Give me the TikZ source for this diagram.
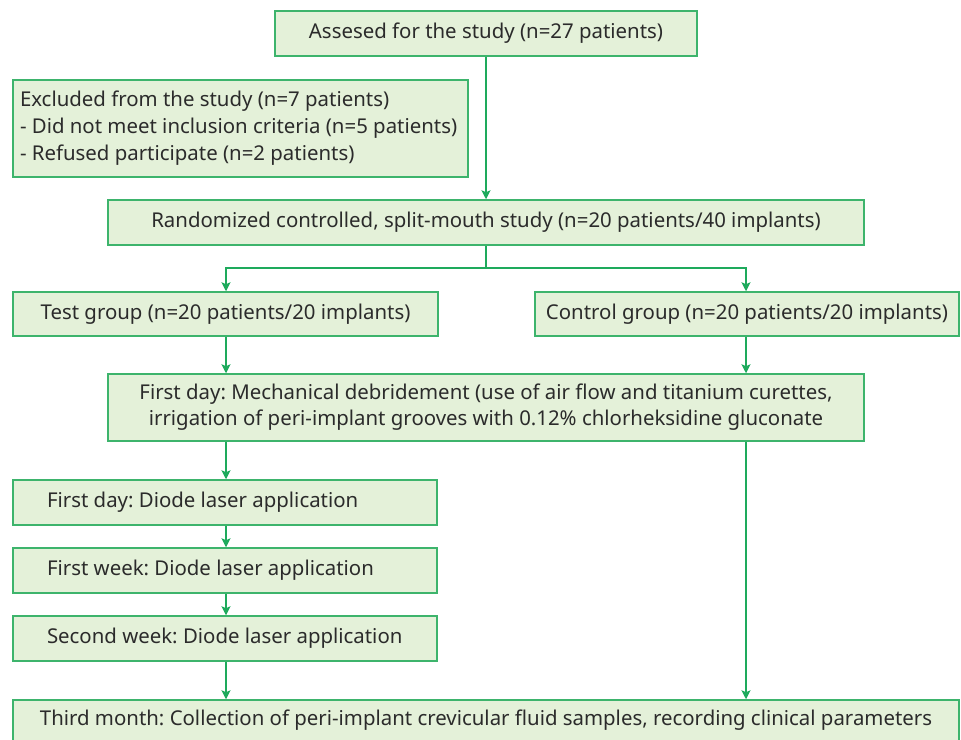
\documentclass[tikz,border=0pt]{standalone}
\usepackage{fontspec}
\setmainfont{Noto Sans}
\usetikzlibrary{arrows.meta}
\definecolor{boxfill}{HTML}{E4F1D9}
\definecolor{boxline}{HTML}{3DB46C}
\definecolor{arrline}{HTML}{1EAA5C}
\definecolor{txt}{HTML}{2B2B2B}
\tikzset{
  fbox/.style={draw=boxline, fill=boxfill, line width=1.5pt, inner sep=0pt,
    text=txt, font=\fontsize{20.4}{26}\selectfont, align=center},
  arr/.style={draw=arrline, line width=1.3pt, -{Stealth[length=9pt,width=9pt,inset=2pt]}},
  ln/.style={draw=arrline, line width=1.3pt}
}
\frenchspacing
\begin{document}
\begin{tikzpicture}[x=1pt,y=-1pt]
\useasboundingbox (0,0) rectangle (961,739);
\clip (0,0) rectangle (961,739);
\node[fbox, minimum width=422pt, minimum height=45pt] (assess) at (486,33.5) {Assesed for the study (n=27 patients)};
\node[fbox, minimum width=455pt, minimum height=97pt, align=left, font=\fontsize{20.4}{27}\selectfont] (excl) at (240.5,128.5) {\makebox[441pt][l]{Excluded from the study (n=7 patients)}\\\makebox[441pt][l]{- Did not meet inclusion criteria (n=5 patients)}\\\makebox[441pt][l]{- Refused participate (n=2 patients)}};
\node[fbox, minimum width=756pt, minimum height=45pt] (rand) at (486,222.5) {Randomized controlled, split-mouth study (n=20 patients/40 implants)};
\node[fbox, minimum width=425pt, minimum height=44pt] (test) at (225.5,314) {Test group (n=20 patients/20 implants)};
\node[fbox, minimum width=424pt, minimum height=44pt] (control) at (747,314) {Control group (n=20 patients/20 implants)};
\node[fbox, minimum width=756pt, minimum height=67pt] (mech) at (486,407.5) {First day: Mechanical debridement (use of air flow and titanium curettes,\\irrigation of peri-implant grooves with 0.12\% chlorheksidine gluconate};
\node[fbox, minimum width=424pt, minimum height=45pt, inner xsep=34pt] (d1) at (225,502.5) {\makebox[356pt][l]{First day: Diode laser application}};
\node[fbox, minimum width=424pt, minimum height=45pt, inner xsep=34pt] (d2) at (225,570.5) {\makebox[356pt][l]{First week: Diode laser application}};
\node[fbox, minimum width=424pt, minimum height=45pt, inner xsep=34pt] (d3) at (225,638.5) {\makebox[356pt][l]{Second week: Diode laser application}};
\node[fbox, minimum width=946pt, minimum height=41pt] (final) at (486,720.5) {Third month: Collection of peri-implant crevicular fluid samples, recording clinical parameters};
\coordinate (j) at (486,268);
\coordinate (lx) at (226,0);
\coordinate (rx) at (746,0);
\draw[arr] (assess) -- (rand);
\draw[ln] (rand.south) -- (j);
\draw[arr] (j) -| (lx |- test.north);
\draw[arr] (j) -| (rx |- control.north);
\draw[arr] (lx |- test.south) -- (lx |- mech.north);
\draw[arr] (rx |- control.south) -- (rx |- mech.north);
\draw[arr] (lx |- mech.south) -- (lx |- d1.north);
\draw[arr] (lx |- d1.south) -- (lx |- d2.north);
\draw[arr] (lx |- d2.south) -- (lx |- d3.north);
\draw[arr] (lx |- d3.south) -- (lx |- final.north);
\draw[arr] (rx |- mech.south) -- (rx |- final.north);
\end{tikzpicture}
\end{document}
